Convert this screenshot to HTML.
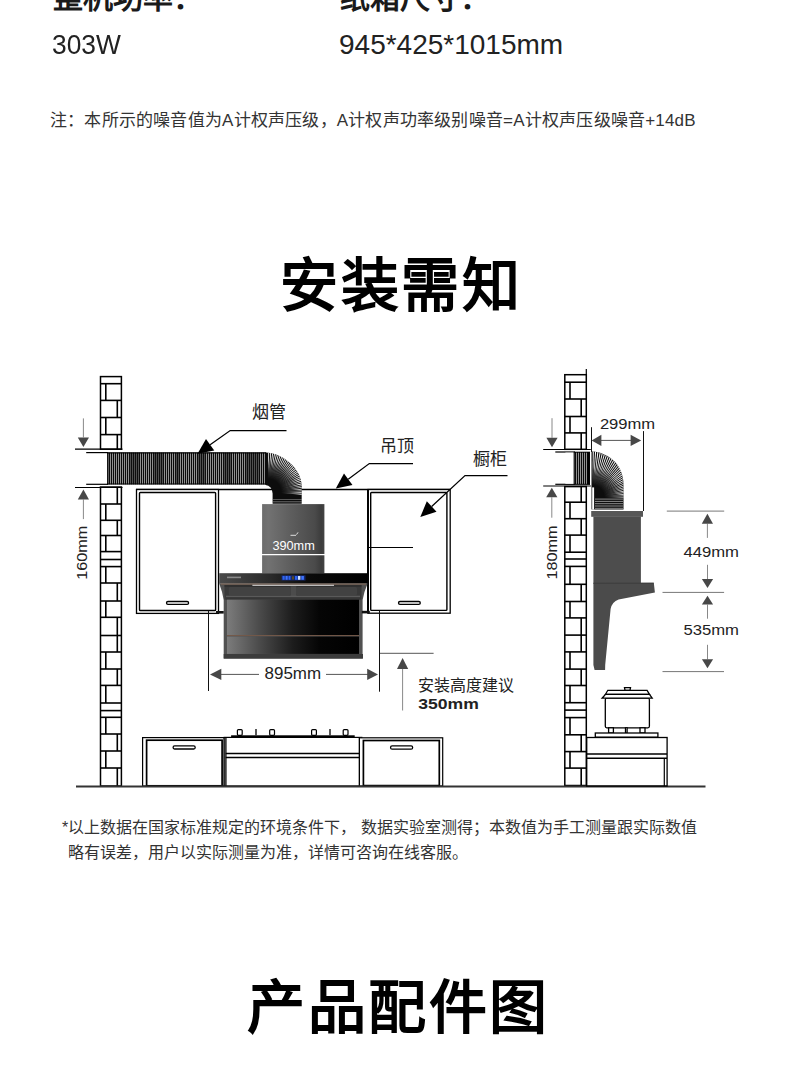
<!DOCTYPE html>
<html lang="zh-CN">
<head>
<meta charset="utf-8">
<style>
html,body{margin:0;padding:0;background:#fff;}
body{width:790px;height:1073px;overflow:hidden;position:relative;font-family:"Liberation Sans",sans-serif;color:#222;}
.a{position:absolute;white-space:nowrap;line-height:1;}
.h1{font-weight:bold;font-size:30px;color:#1a1a1a;}
.v{font-size:28px;color:#222;}
.note{font-size:17px;letter-spacing:0.2px;color:#333;}
.title{font-weight:900;font-size:58px;letter-spacing:2.5px;color:#000;}
.foot{font-size:16px;color:#333;}
svg{position:absolute;left:0;top:0;}
svg text{font-family:"Liberation Sans",sans-serif;}
.dim{fill:#222;}
.lbl{fill:#222;}
</style>
</head>
<body>
<div class="a h1" style="left:52.5px;top:-17px;">整机功率：</div>
<div class="a h1" style="left:339.5px;top:-17px;">纸箱尺寸：</div>
<div class="a v" style="left:52.4px;top:31px;transform:scaleX(0.94);transform-origin:0 0;">303W</div>
<div class="a v" style="left:339px;top:31px;">945*425*1015mm</div>
<div class="a note" style="left:50px;top:112px;">注：本所示的噪音值为A计权声压级，A计权声功率级别噪音=A计权声压级噪音+14dB</div>
<div class="a title" style="left:279.8px;top:256.8px;letter-spacing:2.8px;">安装需知</div>
<svg width="790" height="1073" viewBox="0 0 790 1073">
<defs>
<pattern id="stripesV" x="0" y="0" width="2" height="10" patternUnits="userSpaceOnUse">
<rect width="2" height="10" fill="#0a0a0a"/><rect x="0.25" width="0.55" height="10" fill="#fff"/>
</pattern>
<pattern id="stripesL" x="573.7" y="0" width="2.5" height="10" patternUnits="userSpaceOnUse">
<rect width="2.5" height="10" fill="#fff"/><rect x="0.2" width="0.9" height="10" fill="#111"/>
</pattern>
<clipPath id="elbClip"><use href="#elb"/></clipPath>
<clipPath id="elbClip2"><use href="#elb2"/></clipPath>
<radialGradient id="rg1" gradientUnits="userSpaceOnUse" cx="268" cy="492" r="46">
<stop offset="0.28" stop-color="#000"/><stop offset="0.5" stop-color="#666"/><stop offset="0.7" stop-color="#fff"/></radialGradient>
<radialGradient id="rg2" gradientUnits="userSpaceOnUse" cx="592.5" cy="497" r="46">
<stop offset="0.25" stop-color="#000"/><stop offset="0.45" stop-color="#666"/><stop offset="0.65" stop-color="#fff"/></radialGradient>
<mask id="mk1" maskUnits="userSpaceOnUse" x="200" y="400" width="150" height="150"><rect x="200" y="400" width="150" height="150" fill="url(#rg1)"/></mask>
<mask id="mk2" maskUnits="userSpaceOnUse" x="540" y="400" width="150" height="150"><rect x="540" y="400" width="150" height="150" fill="url(#rg2)"/></mask>
<linearGradient id="chim" x1="0" x2="1" y1="0" y2="0">
<stop offset="0" stop-color="#6c6c6c"/><stop offset="0.1" stop-color="#727272"/><stop offset="0.45" stop-color="#5e5e5e"/><stop offset="0.85" stop-color="#4a4a4a"/><stop offset="0.95" stop-color="#3c3c3c"/><stop offset="1" stop-color="#444"/>
</linearGradient>
<linearGradient id="topbar" x1="0" x2="1" y1="0" y2="0">
<stop offset="0" stop-color="#4a4a4a"/><stop offset="0.35" stop-color="#2a2a2a"/><stop offset="0.6" stop-color="#0a0a0a"/><stop offset="1" stop-color="#000"/>
</linearGradient>
<linearGradient id="glass" x1="0" x2="1" y1="0" y2="0">
<stop offset="0" stop-color="#7c7c7c"/><stop offset="0.25" stop-color="#4a4a4a"/><stop offset="0.5" stop-color="#1c1c1c"/><stop offset="0.7" stop-color="#050505"/><stop offset="1" stop-color="#000"/>
</linearGradient>
</defs>
<rect x="100.5" y="376.6" width="20.900000000000006" height="72.59999999999997" fill="#fff" stroke="#000" stroke-width="1.5"/>
<line x1="100.5" y1="383.7" x2="121.4" y2="383.7" stroke="#000" stroke-width="1.6"/>
<line x1="100.5" y1="400.4" x2="121.4" y2="400.4" stroke="#000" stroke-width="1.6"/>
<line x1="100.5" y1="417.5" x2="121.4" y2="417.5" stroke="#000" stroke-width="1.6"/>
<line x1="100.5" y1="434.6" x2="121.4" y2="434.6" stroke="#000" stroke-width="1.6"/>
<line x1="105.8" y1="383.7" x2="105.8" y2="400.4" stroke="#000" stroke-width="1.6"/>
<line x1="117.3" y1="400.4" x2="117.3" y2="417.5" stroke="#000" stroke-width="1.6"/>
<line x1="105.8" y1="417.5" x2="105.8" y2="434.6" stroke="#000" stroke-width="1.6"/>
<line x1="117.3" y1="434.6" x2="117.3" y2="449.2" stroke="#000" stroke-width="1.6"/>
<rect x="100.5" y="487" width="20.900000000000006" height="299" fill="#fff" stroke="#000" stroke-width="1.5"/>
<line x1="100.5" y1="504" x2="121.4" y2="504" stroke="#000" stroke-width="1.6"/>
<line x1="100.5" y1="520.3" x2="121.4" y2="520.3" stroke="#000" stroke-width="1.6"/>
<line x1="100.5" y1="535.5" x2="121.4" y2="535.5" stroke="#000" stroke-width="1.6"/>
<line x1="100.5" y1="551.6" x2="121.4" y2="551.6" stroke="#000" stroke-width="1.6"/>
<line x1="100.5" y1="559.5" x2="121.4" y2="559.5" stroke="#000" stroke-width="1.6"/>
<line x1="100.5" y1="566.6" x2="121.4" y2="566.6" stroke="#000" stroke-width="1.6"/>
<line x1="100.5" y1="583" x2="121.4" y2="583" stroke="#000" stroke-width="1.6"/>
<line x1="100.5" y1="601" x2="121.4" y2="601" stroke="#000" stroke-width="1.6"/>
<line x1="100.5" y1="617.3" x2="121.4" y2="617.3" stroke="#000" stroke-width="1.6"/>
<line x1="100.5" y1="635.5" x2="121.4" y2="635.5" stroke="#000" stroke-width="1.6"/>
<line x1="100.5" y1="652" x2="121.4" y2="652" stroke="#000" stroke-width="1.6"/>
<line x1="100.5" y1="669" x2="121.4" y2="669" stroke="#000" stroke-width="1.6"/>
<line x1="100.5" y1="685.4" x2="121.4" y2="685.4" stroke="#000" stroke-width="1.6"/>
<line x1="100.5" y1="703" x2="121.4" y2="703" stroke="#000" stroke-width="1.6"/>
<line x1="100.5" y1="710.6" x2="121.4" y2="710.6" stroke="#000" stroke-width="1.6"/>
<line x1="100.5" y1="717.3" x2="121.4" y2="717.3" stroke="#000" stroke-width="1.6"/>
<line x1="100.5" y1="734" x2="121.4" y2="734" stroke="#000" stroke-width="1.6"/>
<line x1="100.5" y1="751" x2="121.4" y2="751" stroke="#000" stroke-width="1.6"/>
<line x1="100.5" y1="768" x2="121.4" y2="768" stroke="#000" stroke-width="1.6"/>
<line x1="117.3" y1="487" x2="117.3" y2="504" stroke="#000" stroke-width="1.6"/>
<line x1="105.8" y1="504" x2="105.8" y2="520.3" stroke="#000" stroke-width="1.6"/>
<line x1="117.3" y1="520.3" x2="117.3" y2="535.5" stroke="#000" stroke-width="1.6"/>
<line x1="105.8" y1="535.5" x2="105.8" y2="551.6" stroke="#000" stroke-width="1.6"/>
<line x1="105.8" y1="566.6" x2="105.8" y2="583" stroke="#000" stroke-width="1.6"/>
<line x1="117.3" y1="583" x2="117.3" y2="601" stroke="#000" stroke-width="1.6"/>
<line x1="105.8" y1="601" x2="105.8" y2="617.3" stroke="#000" stroke-width="1.6"/>
<line x1="117.3" y1="617.3" x2="117.3" y2="635.5" stroke="#000" stroke-width="1.6"/>
<line x1="117.3" y1="635.5" x2="117.3" y2="652" stroke="#000" stroke-width="1.6"/>
<line x1="105.8" y1="652" x2="105.8" y2="669" stroke="#000" stroke-width="1.6"/>
<line x1="117.3" y1="669" x2="117.3" y2="685.4" stroke="#000" stroke-width="1.6"/>
<line x1="105.8" y1="685.4" x2="105.8" y2="703" stroke="#000" stroke-width="1.6"/>
<line x1="105.8" y1="717.3" x2="105.8" y2="734" stroke="#000" stroke-width="1.6"/>
<line x1="117.3" y1="734" x2="117.3" y2="751" stroke="#000" stroke-width="1.6"/>
<line x1="105.8" y1="751" x2="105.8" y2="768" stroke="#000" stroke-width="1.6"/>
<line x1="117.3" y1="768" x2="117.3" y2="786" stroke="#000" stroke-width="1.6"/>
<line x1="586.3" y1="369" x2="586.3" y2="375" stroke="#000" stroke-width="1.2"/>
<rect x="564.8" y="374.7" width="21.5" height="74.60000000000002" fill="#fff" stroke="#000" stroke-width="1.5"/>
<line x1="564.8" y1="382.2" x2="586.3" y2="382.2" stroke="#000" stroke-width="1.6"/>
<line x1="564.8" y1="399" x2="586.3" y2="399" stroke="#000" stroke-width="1.6"/>
<line x1="564.8" y1="416.5" x2="586.3" y2="416.5" stroke="#000" stroke-width="1.6"/>
<line x1="564.8" y1="432.9" x2="586.3" y2="432.9" stroke="#000" stroke-width="1.6"/>
<line x1="570.0" y1="382.2" x2="570.0" y2="399" stroke="#000" stroke-width="1.6"/>
<line x1="581.2" y1="399" x2="581.2" y2="416.5" stroke="#000" stroke-width="1.6"/>
<line x1="570.0" y1="416.5" x2="570.0" y2="432.9" stroke="#000" stroke-width="1.6"/>
<line x1="581.2" y1="432.9" x2="581.2" y2="449.3" stroke="#000" stroke-width="1.6"/>
<rect x="564.8" y="486.6" width="21.5" height="298.9" fill="#fff" stroke="#000" stroke-width="1.5"/>
<line x1="564.8" y1="502.2" x2="586.3" y2="502.2" stroke="#000" stroke-width="1.6"/>
<line x1="564.8" y1="518.7" x2="586.3" y2="518.7" stroke="#000" stroke-width="1.6"/>
<line x1="564.8" y1="535.1" x2="586.3" y2="535.1" stroke="#000" stroke-width="1.6"/>
<line x1="564.8" y1="552.2" x2="586.3" y2="552.2" stroke="#000" stroke-width="1.6"/>
<line x1="564.8" y1="559" x2="586.3" y2="559" stroke="#000" stroke-width="1.6"/>
<line x1="564.8" y1="566.4" x2="586.3" y2="566.4" stroke="#000" stroke-width="1.6"/>
<line x1="564.8" y1="584.3" x2="586.3" y2="584.3" stroke="#000" stroke-width="1.6"/>
<line x1="564.8" y1="601.5" x2="586.3" y2="601.5" stroke="#000" stroke-width="1.6"/>
<line x1="564.8" y1="617.9" x2="586.3" y2="617.9" stroke="#000" stroke-width="1.6"/>
<line x1="564.8" y1="635.1" x2="586.3" y2="635.1" stroke="#000" stroke-width="1.6"/>
<line x1="564.8" y1="651.9" x2="586.3" y2="651.9" stroke="#000" stroke-width="1.6"/>
<line x1="564.8" y1="669.1" x2="586.3" y2="669.1" stroke="#000" stroke-width="1.6"/>
<line x1="564.8" y1="685.5" x2="586.3" y2="685.5" stroke="#000" stroke-width="1.6"/>
<line x1="564.8" y1="702.7" x2="586.3" y2="702.7" stroke="#000" stroke-width="1.6"/>
<line x1="564.8" y1="710.1" x2="586.3" y2="710.1" stroke="#000" stroke-width="1.6"/>
<line x1="564.8" y1="717.6" x2="586.3" y2="717.6" stroke="#000" stroke-width="1.6"/>
<line x1="564.8" y1="734.8" x2="586.3" y2="734.8" stroke="#000" stroke-width="1.6"/>
<line x1="564.8" y1="751.6" x2="586.3" y2="751.6" stroke="#000" stroke-width="1.6"/>
<line x1="564.8" y1="768.1" x2="586.3" y2="768.1" stroke="#000" stroke-width="1.6"/>
<line x1="581.2" y1="486.6" x2="581.2" y2="502.2" stroke="#000" stroke-width="1.6"/>
<line x1="570.0" y1="502.2" x2="570.0" y2="518.7" stroke="#000" stroke-width="1.6"/>
<line x1="581.2" y1="518.7" x2="581.2" y2="535.1" stroke="#000" stroke-width="1.6"/>
<line x1="570.0" y1="535.1" x2="570.0" y2="552.2" stroke="#000" stroke-width="1.6"/>
<line x1="570.0" y1="566.4" x2="570.0" y2="584.3" stroke="#000" stroke-width="1.6"/>
<line x1="581.2" y1="584.3" x2="581.2" y2="601.5" stroke="#000" stroke-width="1.6"/>
<line x1="570.0" y1="601.5" x2="570.0" y2="617.9" stroke="#000" stroke-width="1.6"/>
<line x1="581.2" y1="617.9" x2="581.2" y2="635.1" stroke="#000" stroke-width="1.6"/>
<line x1="581.2" y1="635.1" x2="581.2" y2="651.9" stroke="#000" stroke-width="1.6"/>
<line x1="570.0" y1="651.9" x2="570.0" y2="669.1" stroke="#000" stroke-width="1.6"/>
<line x1="581.2" y1="669.1" x2="581.2" y2="685.5" stroke="#000" stroke-width="1.6"/>
<line x1="570.0" y1="685.5" x2="570.0" y2="702.7" stroke="#000" stroke-width="1.6"/>
<line x1="570.0" y1="717.6" x2="570.0" y2="734.8" stroke="#000" stroke-width="1.6"/>
<line x1="581.2" y1="734.8" x2="581.2" y2="751.6" stroke="#000" stroke-width="1.6"/>
<line x1="570.0" y1="751.6" x2="570.0" y2="768.1" stroke="#000" stroke-width="1.6"/>
<line x1="581.2" y1="768.1" x2="581.2" y2="785.5" stroke="#000" stroke-width="1.6"/>
<g stroke="#000" stroke-width="1.2"><line x1="75" y1="449.2" x2="122.5" y2="449.2"/><line x1="75" y1="487.5" x2="122.5" y2="487.5"/><line x1="86.2" y1="452.6" x2="108" y2="452.6"/><line x1="86.2" y1="484.3" x2="108" y2="484.3"/></g>
<line x1="83.4" y1="418.4" x2="83.4" y2="437.4" stroke="#6a6a6a" stroke-width="0.8"/><path d="M77.80000000000001,437.4 L89.0,437.4 L83.4,446.9 Z" fill="#474747"/>
<line x1="83.4" y1="519.1" x2="83.4" y2="499.5" stroke="#6a6a6a" stroke-width="0.8"/><path d="M77.80000000000001,499.5 L89.0,499.5 L83.4,489.5 Z" fill="#474747"/>
<text x="0" y="0" transform="translate(87.3,579.8) rotate(-90)" class="dim" font-size="15.2" textLength="54" lengthAdjust="spacingAndGlyphs">160mm</text>
<line x1="136" y1="489.5" x2="450" y2="489.5" stroke="#000" stroke-width="1.3"/>
<rect x="136.5" y="489.5" width="82.0" height="123.89999999999998" fill="#fff" stroke="#000" stroke-width="1.3"/><rect x="139.5" y="492.5" width="76.1" height="118.0" rx="0.8" fill="#fff" stroke="#000" stroke-width="1.4"/><rect x="166.5" y="601.5" width="22.099999999999994" height="2.8999999999999773" rx="1.5" fill="#fff" stroke="#000" stroke-width="1.3"/>
<rect x="368" y="489.5" width="82.19999999999999" height="123.70000000000005" fill="#fff" stroke="#000" stroke-width="1.3"/><rect x="370.7" y="492.5" width="76.19999999999999" height="117.89999999999998" rx="0.8" fill="#fff" stroke="#000" stroke-width="1.4"/><rect x="398.5" y="601.5" width="21.80000000000001" height="2.8999999999999773" rx="1.5" fill="#fff" stroke="#000" stroke-width="1.3"/>
<line x1="368" y1="489.5" x2="368" y2="613.2" stroke="#000" stroke-width="1.9"/>
<line x1="368" y1="547.5" x2="413" y2="547.5" stroke="#000" stroke-width="1"/>
<rect x="107.3" y="452.6" width="159" height="31.8" fill="url(#stripesV)"/>
<g fill="#111" opacity="0.5"><rect x="129" y="453" width="10" height="31"/><rect x="154" y="453" width="9" height="31"/><rect x="175" y="453" width="5" height="31"/><rect x="198" y="453" width="8" height="31"/><rect x="223" y="453" width="8" height="31"/><rect x="246" y="453" width="13" height="31"/></g>
<g stroke="#000" stroke-width="1.1"><line x1="107.3" y1="452.9" x2="266" y2="452.9"/><line x1="107.3" y1="484" x2="266" y2="484"/><line x1="107.8" y1="452.6" x2="107.8" y2="484.4"/></g>
<path id="elb" d="M265.5,452.4 L266,452.4 C280,452.4 301.7,467 301.7,486 L301.7,503.7 L272.6,503.7 L272.6,493.6 A7,8.6 0 0 0 265.6,485 L265.5,484.4 Z" fill="#0d0d0d"/>
<g clip-path="url(#elbClip)" fill="#fff" mask="url(#mk1)"><path d="M268,492 L268.37,432.00 L269.73,432.02 Z"/><path d="M268,492 L271.40,432.10 L272.76,432.19 Z"/><path d="M268,492 L274.43,432.35 L275.78,432.51 Z"/><path d="M268,492 L277.44,432.75 L278.78,432.98 Z"/><path d="M268,492 L280.42,433.30 L281.75,433.60 Z"/><path d="M268,492 L283.38,434.00 L284.69,434.37 Z"/><path d="M268,492 L286.29,434.86 L287.58,435.29 Z"/><path d="M268,492 L289.16,435.85 L290.43,436.35 Z"/><path d="M268,492 L291.97,437.00 L293.21,437.56 Z"/><path d="M268,492 L294.72,438.28 L295.94,438.90 Z"/><path d="M268,492 L297.41,439.70 L298.59,440.38 Z"/><path d="M268,492 L300.02,441.26 L301.16,442.00 Z"/><path d="M268,492 L302.54,442.94 L303.65,443.74 Z"/><path d="M268,492 L304.98,444.75 L306.04,445.60 Z"/><path d="M268,492 L307.32,446.68 L308.34,447.59 Z"/><path d="M268,492 L309.57,448.73 L310.54,449.68 Z"/><path d="M268,492 L311.70,450.89 L312.62,451.89 Z"/><path d="M268,492 L313.73,453.15 L314.60,454.20 Z"/><path d="M268,492 L315.63,455.52 L316.45,456.61 Z"/><path d="M268,492 L317.42,457.97 L318.18,459.10 Z"/><path d="M268,492 L319.08,460.52 L319.78,461.68 Z"/><path d="M268,492 L320.60,463.14 L321.24,464.34 Z"/><path d="M268,492 L322.00,465.84 L322.58,467.07 Z"/><path d="M268,492 L323.25,468.60 L323.77,469.86 Z"/><path d="M268,492 L324.36,471.43 L324.82,472.71 Z"/><path d="M268,492 L325.33,474.31 L325.72,475.61 Z"/><path d="M268,492 L326.15,477.23 L326.47,478.55 Z"/><path d="M268,492 L326.83,480.19 L327.08,481.53 Z"/><path d="M268,492 L327.35,483.18 L327.53,484.53 Z"/><path d="M268,492 L327.72,486.20 L327.84,487.55 Z"/><path d="M268,492 L327.94,489.23 L327.98,490.59 Z"/><path d="M268,492 L328.00,492.26 L327.98,493.62 Z"/><path d="M268,492 L327.91,495.30 L327.82,496.66 Z"/></g>
<g clip-path="url(#elbClip)" stroke="#fff" stroke-width="0.5" opacity="0.8"><line x1="273" y1="499.3" x2="302" y2="499.3"/><line x1="273" y1="501.8" x2="302" y2="501.8"/></g>
<rect x="262.1" y="504.1" width="62.3" height="69.2" fill="url(#chim)"/>
<line x1="262" y1="554.7" x2="331" y2="554.7" stroke="#fff" stroke-width="1.2"/>
<text x="272.4" y="549.8" style="fill:#fff" font-size="12.4" textLength="42.4" lengthAdjust="spacingAndGlyphs">390mm</text>
<path d="M290.5,535.3 L296,535.3 M296.5,534.6 L298,532.4" stroke="#eee" stroke-width="0.9" fill="none"/>
<rect x="219.2" y="573.2" width="148.4" height="10.5" fill="url(#topbar)"/>
<rect x="227" y="576.6" width="14" height="1.6" fill="#8a8a8a"/>
<rect x="281.5" y="575.3" width="24" height="5.2" fill="#16286e"/><rect x="282.5" y="576" width="2.2" height="3.8" fill="#2f64f0"/><rect x="285.5" y="576" width="2.2" height="3.8" fill="#3d74ff"/><rect x="288.5" y="576" width="2" height="3.8" fill="#2f64f0"/><rect x="292" y="576.3" width="2" height="3.2" fill="#5a4a20"/><rect x="295" y="576" width="2.5" height="3.8" fill="#2f64f0"/><rect x="298" y="576" width="2.4" height="3.8" fill="#cfe0ff"/><rect x="301.3" y="576" width="2.6" height="3.8" fill="#3d74ff"/>
<path d="M219.2,583.6 L367.6,583.6 Q364,592 362.6,600 L362.6,658.6 L223.7,658.6 L223.7,600 Q222.5,592 219.2,583.6 Z" fill="#515151"/>
<line x1="220.8" y1="584.1" x2="366" y2="584.1" stroke="#8c6a55" stroke-width="0.8"/>
<rect x="224.5" y="585.2" width="137" height="14.5" fill="#393939"/>
<rect x="224.5" y="585.2" width="137" height="1.4" fill="#2c2c2c"/>
<rect x="228.8" y="587.1" width="61.5" height="8.2" rx="1.5" fill="#424242"/><rect x="296.5" y="587.1" width="60.5" height="8.2" rx="1.5" fill="#424242"/>
<rect x="290.6" y="586.4" width="5.8" height="10.6" fill="#4c4c4c"/>
<rect x="226" y="595.7" width="134" height="1.6" fill="#5a5a5a"/><rect x="226" y="597.4" width="134" height="2" fill="#363636"/>
<line x1="252.4" y1="585.3" x2="334" y2="585.3" stroke="#e0e0e0" stroke-width="1"/>
<rect x="227" y="599.7" width="132" height="35.4" fill="url(#glass)"/>
<line x1="227" y1="635.6" x2="359" y2="635.6" stroke="#7a5a48" stroke-width="0.9"/>
<rect x="227" y="636.5" width="132" height="17.4" fill="url(#glass)"/>
<rect x="223.7" y="654" width="139.3" height="4.6" fill="#3c3c3c"/>
<rect x="216" y="611" width="7.7" height="2.6" fill="#111"/><rect x="361.8" y="610.8" width="8" height="2.6" fill="#111"/>
<g stroke="#111" stroke-width="1"><line x1="208.5" y1="610.5" x2="208.5" y2="691"/><line x1="379.5" y1="610.5" x2="379.5" y2="691.7"/></g>
<g stroke="#555" stroke-width="1"><line x1="221" y1="674.4" x2="259" y2="674.4"/><line x1="326" y1="674.4" x2="368" y2="674.4"/></g>
<path d="M210,674.4 L221.3,668.8 L221.3,680.0 Z" fill="#474747"/>
<path d="M378,674.4 L367.2,668.8 L367.2,680.0 Z" fill="#474747"/>
<text x="264.5" y="678.5" class="dim" font-size="16.3" textLength="56.6" lengthAdjust="spacingAndGlyphs">895mm</text>
<line x1="380" y1="653.3" x2="433.6" y2="653.3" stroke="#555" stroke-width="1"/>
<line x1="402.6" y1="710.5" x2="402.6" y2="668.9" stroke="#6a6a6a" stroke-width="0.8"/><path d="M397.0,668.9 L408.20000000000005,668.9 L402.6,658.1 Z" fill="#474747"/>
<text x="417.6" y="691.4" class="lbl" font-size="16">安装高度建议</text>
<text x="418.2" y="708.6" class="dim" font-size="14.6" font-weight="bold" textLength="60.6" lengthAdjust="spacingAndGlyphs">350mm</text>
<text x="252.3" y="418.2" class="lbl" font-size="17">烟管</text>
<polyline points="286.5,430.5 230.2,430.5 210.12,444.81" fill="none" stroke="#000" stroke-width="1.25"/><path d="M197.5,453.8 L206.00,439.02 L214.24,450.59 Z" fill="#000"/>
<text x="379.6" y="451.6" class="lbl" font-size="17">吊顶</text>
<polyline points="413,463.5 369.3,463.5 348.22,479.23" fill="none" stroke="#000" stroke-width="1.25"/><path d="M335.8,488.5 L343.98,473.54 L352.47,484.92 Z" fill="#000"/>
<text x="472.6" y="465" class="lbl" font-size="17">橱柜</text>
<polyline points="507.5,475.5 465,475.5 431.66,506.45" fill="none" stroke="#000" stroke-width="1.25"/><path d="M420.3,517 L426.83,501.25 L436.49,511.66 Z" fill="#000"/>
<g fill="#fff" stroke="#000"><rect x="142.6" y="737.6" width="81.6" height="48.4" stroke-width="1.2"/><rect x="146.6" y="740.2" width="75.5" height="45.6" stroke-width="1.7"/><rect x="173.1" y="745.9" width="22.1" height="3.1" rx="1.5" stroke-width="1.3"/><rect x="224.2" y="737.4" width="137.6" height="48.6" stroke-width="1.2"/><rect x="231.1" y="735.3" width="123.6" height="1.8" fill="#000" stroke="none"/><line x1="225.7" y1="753.5" x2="359.5" y2="753.5" stroke-width="1.5"/><line x1="225.7" y1="757.5" x2="359.5" y2="757.5" stroke-width="1.5"/><line x1="225.9" y1="737.4" x2="225.9" y2="786" stroke-width="1.3"/><line x1="359.5" y1="737.4" x2="359.5" y2="786" stroke-width="1.3"/><rect x="359.4" y="737.8" width="83.3" height="48.2" stroke-width="1.2"/><rect x="363.4" y="740.5" width="75.9" height="45.1" stroke-width="1.7"/><rect x="390.6" y="745.8" width="22" height="3.4" rx="1.5" stroke-width="1.3"/></g>
<rect x="237.4" y="729.6" width="4.799999999999983" height="5.7" rx="1" fill="#fff" stroke="#000" stroke-width="1.2"/>
<rect x="269.7" y="729.6" width="4.800000000000011" height="5.7" rx="1" fill="#fff" stroke="#000" stroke-width="1.2"/>
<rect x="311.6" y="729.6" width="4.7999999999999545" height="5.7" rx="1" fill="#fff" stroke="#000" stroke-width="1.2"/>
<rect x="343.2" y="729.6" width="4.800000000000011" height="5.7" rx="1" fill="#fff" stroke="#000" stroke-width="1.2"/>
<line x1="256" y1="729" x2="256" y2="735.3" stroke="#000" stroke-width="1.3"/>
<line x1="330" y1="729" x2="330" y2="735.3" stroke="#000" stroke-width="1.3"/>
<line x1="76" y1="786.4" x2="705.5" y2="786.4" stroke="#333" stroke-width="2"/>
<g stroke="#000" stroke-width="1.2"><line x1="543.2" y1="449.5" x2="590.8" y2="449.5"/><line x1="543.2" y1="486" x2="590.8" y2="486"/><line x1="555.3" y1="452" x2="575" y2="452"/><line x1="555.3" y1="484.3" x2="575" y2="484.3"/></g>
<rect x="565.4" y="452.6" width="20.3" height="31.1" fill="#fff"/>
<rect x="573.9" y="452" width="16" height="32.4" fill="url(#stripesV)"/>
<rect x="587.3" y="452" width="2.6" height="32.4" fill="#000"/>
<g stroke="#000" stroke-width="1"><line x1="573.9" y1="452.2" x2="590" y2="452.2"/><line x1="573.9" y1="484.3" x2="590" y2="484.3"/><line x1="574.2" y1="452" x2="574.2" y2="484.4"/></g>
<line x1="552" y1="418.2" x2="552" y2="437.8" stroke="#6a6a6a" stroke-width="0.8"/><path d="M546.4,437.8 L557.6,437.8 L552,447.3 Z" fill="#474747"/>
<line x1="551.8" y1="517.7" x2="551.8" y2="497.3" stroke="#6a6a6a" stroke-width="0.8"/><path d="M546.1999999999999,497.3 L557.4,497.3 L551.8,487.8 Z" fill="#474747"/>
<text x="0" y="0" transform="translate(557,579.4) rotate(-90)" class="dim" font-size="15.2" textLength="54" lengthAdjust="spacingAndGlyphs">180mm</text>
<path id="elb2" d="M591.5,451.5 C605,451.5 623.5,462 623.5,485 L623.5,509.6 L591.5,509.6 Z" fill="#0d0d0d"/>
<g clip-path="url(#elbClip2)" fill="#fff" mask="url(#mk2)"><path d="M592.5,497 L592.87,437.00 L594.23,437.02 Z"/><path d="M592.5,497 L595.90,437.10 L597.26,437.19 Z"/><path d="M592.5,497 L598.93,437.35 L600.28,437.51 Z"/><path d="M592.5,497 L601.94,437.75 L603.28,437.98 Z"/><path d="M592.5,497 L604.92,438.30 L606.25,438.60 Z"/><path d="M592.5,497 L607.88,439.00 L609.19,439.37 Z"/><path d="M592.5,497 L610.79,439.86 L612.08,440.29 Z"/><path d="M592.5,497 L613.66,440.85 L614.93,441.35 Z"/><path d="M592.5,497 L616.47,442.00 L617.71,442.56 Z"/><path d="M592.5,497 L619.22,443.28 L620.44,443.90 Z"/><path d="M592.5,497 L621.91,444.70 L623.09,445.38 Z"/><path d="M592.5,497 L624.52,446.26 L625.66,447.00 Z"/><path d="M592.5,497 L627.04,447.94 L628.15,448.74 Z"/><path d="M592.5,497 L629.48,449.75 L630.54,450.60 Z"/><path d="M592.5,497 L631.82,451.68 L632.84,452.59 Z"/><path d="M592.5,497 L634.07,453.73 L635.04,454.68 Z"/><path d="M592.5,497 L636.20,455.89 L637.12,456.89 Z"/><path d="M592.5,497 L638.23,458.15 L639.10,459.20 Z"/><path d="M592.5,497 L640.13,460.52 L640.95,461.61 Z"/><path d="M592.5,497 L641.92,462.97 L642.68,464.10 Z"/><path d="M592.5,497 L643.58,465.52 L644.28,466.68 Z"/><path d="M592.5,497 L645.10,468.14 L645.74,469.34 Z"/><path d="M592.5,497 L646.50,470.84 L647.08,472.07 Z"/><path d="M592.5,497 L647.75,473.60 L648.27,474.86 Z"/><path d="M592.5,497 L648.86,476.43 L649.32,477.71 Z"/><path d="M592.5,497 L649.83,479.31 L650.22,480.61 Z"/><path d="M592.5,497 L650.65,482.23 L650.97,483.55 Z"/><path d="M592.5,497 L651.33,485.19 L651.58,486.53 Z"/><path d="M592.5,497 L651.85,488.18 L652.03,489.53 Z"/><path d="M592.5,497 L652.22,491.20 L652.34,492.55 Z"/><path d="M592.5,497 L652.44,494.23 L652.48,495.59 Z"/><path d="M592.5,497 L652.50,497.26 L652.48,498.62 Z"/></g>
<g clip-path="url(#elbClip2)" stroke="#fff" stroke-width="0.6" opacity="0.9"><line x1="595" y1="499.1" x2="623" y2="499.1"/><line x1="595" y1="501.4" x2="623" y2="501.4"/><line x1="595" y1="503.7" x2="623" y2="503.7"/><line x1="595" y1="506" x2="623" y2="506"/><line x1="595" y1="508.3" x2="623" y2="508.3"/></g>
<rect x="592.2" y="487.4" width="1.9" height="22.2" fill="#fff"/>
<g stroke="#111" stroke-width="1"><line x1="591.5" y1="427.2" x2="591.5" y2="452"/><line x1="643.5" y1="431.1" x2="643.5" y2="511"/></g>
<line x1="601" y1="440.4" x2="631" y2="440.4" stroke="#555" stroke-width="1"/>
<path d="M591.6,440.4 L601.4,434.79999999999995 L601.4,446.0 Z" fill="#474747"/>
<path d="M641.2,440.4 L630.6,434.79999999999995 L630.6,446.0 Z" fill="#474747"/>
<text x="599.9" y="429" class="dim" font-size="14.5" textLength="55.3" lengthAdjust="spacingAndGlyphs">299mm</text>
<rect x="591.2" y="511" width="51.8" height="5.8" fill="#575757"/>
<rect x="593.4" y="516.5" width="47.5" height="67" fill="#4d4d4d"/>
<path d="M593.4,583 L653.8,582.8 L654.9,592.6 L618.6,599.6 Q612,602 610.6,609 L605.2,665 L605.1,670 L594.6,670 L593.4,665 Z" fill="#4b4b4b"/>
<line x1="593.4" y1="583.2" x2="653.8" y2="583.2" stroke="#3a3a3a" stroke-width="0.8"/>
<g stroke="#777" stroke-width="1"><line x1="666.8" y1="511.1" x2="724.2" y2="511.1"/><line x1="662.5" y1="592.4" x2="724.1" y2="592.4"/><line x1="662.5" y1="671.6" x2="724" y2="671.6"/></g>
<line x1="707.4" y1="537.9" x2="707.4" y2="523.6999999999999" stroke="#6a6a6a" stroke-width="0.8"/><path d="M701.8,523.6999999999999 L713.0,523.6999999999999 L707.4,513.8 Z" fill="#474747"/>
<line x1="707.5" y1="564.8" x2="707.5" y2="579" stroke="#6a6a6a" stroke-width="0.8"/><path d="M701.9,579 L713.1,579 L707.5,588 Z" fill="#474747"/>
<line x1="707.5" y1="618.7" x2="707.5" y2="604.5999999999999" stroke="#6a6a6a" stroke-width="0.8"/><path d="M701.9,604.5999999999999 L713.1,604.5999999999999 L707.5,595.8 Z" fill="#474747"/>
<line x1="707.5" y1="644.8" x2="707.5" y2="659.3" stroke="#6a6a6a" stroke-width="0.8"/><path d="M701.9,659.3 L713.1,659.3 L707.5,668.3 Z" fill="#474747"/>
<text x="683.4" y="557" class="dim" font-size="15" textLength="55.6" lengthAdjust="spacingAndGlyphs">449mm</text>
<text x="683.4" y="635" class="dim" font-size="15" textLength="55.6" lengthAdjust="spacingAndGlyphs">535mm</text>
<g fill="#fff" stroke="#000" stroke-width="1.3"><path d="M625,690.3 L624.5,687.6 L630.5,687.6 L630,690.3 Z"/><rect x="605.3" y="698.2" width="44.1" height="29.6" rx="1.5"/><path d="M607.8,690.3 L647.1,690.3 L649.5,694.3 L605.5,694.3 Z"/><path d="M605.5,694.3 L649.5,694.3 L652.2,698.2 L602.1,698.2 Z"/><rect x="608.6" y="727.8" width="4.8" height="5.2"/><rect x="625.5" y="727.8" width="1.6" height="5.2"/><rect x="640" y="727.8" width="5" height="5.2"/><rect x="595.3" y="733" width="62.6" height="4.2"/></g>
<g fill="none" stroke="#000"><rect x="586.7" y="737.5" width="80.4" height="48.5" stroke-width="1.3"/><line x1="586.7" y1="754" x2="667" y2="754" stroke-width="1.5"/><line x1="586.7" y1="758.2" x2="667" y2="758.2" stroke-width="1.5"/><line x1="664.3" y1="758.2" x2="664.3" y2="786" stroke-width="1.2"/></g>
</svg>
<div class="a foot" style="left:62px;top:819.8px;">*以上数据在国家标准规定的环境条件下， 数据实验室测得；本数值为手工测量跟实际数值</div>
<div class="a foot" style="left:68px;top:844.7px;">略有误差，用户以实际测量为准，详情可咨询在线客服。</div>
<div class="a title" style="left:247px;top:978.8px;">产品配件图</div>
</body>
</html>
